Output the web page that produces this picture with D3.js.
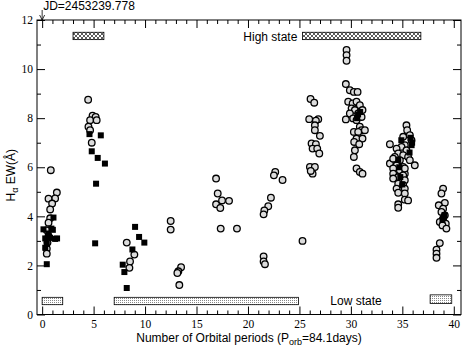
<!DOCTYPE html>
<html>
<head>
<meta charset="utf-8">
<script src="https://cdn.jsdelivr.net/npm/d3@7"></script>
<style>
  body { margin: 0; background: #fff; }
  svg { display: block; }
</style>
</head>
<body>
<div id="chart"></div>
<script>
// open circles: [orbital period number, H-alpha EW]
const openPts = [
  [0.84,5.88],[1.43,4.97],[1.26,4.73],[0.62,4.72],[0.97,4.52],[0.78,4.28],[0.78,3.92],
  [0.62,3.74],[0.45,3.43],[0.62,3.2],[0.52,2.93],[0.45,2.68],[0.45,2.48],
  [4.47,8.75],[4.9,8.1],[5.2,8.05],[4.66,7.92],[5.3,7.92],[4.5,7.65],[4.66,7.51],[4.82,7.0],
  [8.22,2.93],[8.96,2.44],[8.54,2.16],[8.48,1.9],
  [12.49,3.81],[12.49,3.46],[13.5,1.93],[13.24,1.76],[13.14,1.69],[13.33,1.2],
  [16.9,5.54],[17.06,4.93],[16.9,4.49],[17.48,4.65],[17.31,4.34],[18.16,4.63],[17.35,3.5],[18.93,3.5],
  [22.65,5.81],[22.52,5.67],[23.36,5.48],[22.23,4.76],[21.97,4.41],[21.59,4.24],[21.52,4.08],
  [21.52,2.37],[21.52,2.16],[21.65,2.05],
  [25.3,3.0],
  [26.08,8.78],[26.44,8.63],[25.95,7.96],[26.83,7.96],[26.6,7.9],[26.5,7.71],[26.5,7.51],[26.99,7.28],
  [26.18,6.97],[26.6,6.94],[26.28,6.76],[26.73,6.76],[26.93,6.56],[26.02,6.01],[26.5,6.01],[26.28,5.74],[26.1,5.85],
  [29.58,10.78],[29.58,10.57],[29.58,10.34],[29.51,9.39],[29.9,9.14],[30.29,9.07],[30.65,9.07],
  [29.74,8.67],[30.17,8.6],[30.55,8.67],[30.87,8.53],[30.07,8.4],[30.39,8.33],[31.13,8.33],
  [29.9,8.19],[30.71,8.19],[31.04,8.05],[30.22,7.99],[29.51,7.95],[30.55,7.92],[30.87,7.65],
  [31.04,7.51],[31.36,7.51],[30.29,7.44],[30.71,7.44],[30.55,7.17],[31.13,7.17],[30.32,7.03],
  [30.81,6.94],[30.39,6.69],[30.29,6.42],[30.55,5.95],[30.87,5.81],[31.13,5.74],
  [35.4,7.71],[35.47,7.51],[35.73,7.31],[35.08,7.24],[35.89,7.1],[33.79,6.94],[35.24,6.9],
  [34.92,6.83],[34.44,6.76],[35.4,6.69],[34.6,6.56],[35.08,6.49],[35.56,6.42],[34.27,6.42],
  [35.73,6.29],[34.76,6.29],[34.11,6.22],[33.79,6.15],[34.44,6.08],[36.21,6.08],[35.08,6.01],
  [34.11,5.95],[34.76,5.88],[34.11,5.74],[35.24,5.74],[34.6,5.6],[34.11,6.35],[35.24,5.95],
  [35.08,5.67],[34.11,5.54],[35.24,5.47],[34.6,5.33],[35.08,5.27],[34.44,5.13],[35.24,5.13],
  [34.6,4.96],[35.24,4.93],[35.24,4.68],[35.56,4.65],[34.6,4.49],[34.6,4.35],
  [38.96,5.13],[38.8,4.93],[39.13,4.55],[38.54,4.45],[38.96,4.31],[38.8,4.18],[39.13,4.04],
  [38.96,3.9],[38.64,3.77],[39.22,3.7],[38.9,3.63],[39.28,3.5],[38.64,2.91],[38.32,2.64],
  [38.32,2.48],[38.32,2.31]
];

// filled squares
const filledPts = [
  [0.45,2.05],[1.1,3.95],[0.13,3.47],[1.04,3.45],[0.3,3.1],[1.26,3.08],[0.78,3.12],[1.45,3.1],
  [0.45,2.88],[0.3,2.72],[0.6,3.3],[0.9,3.5],
  [4.6,7.35],[5.7,7.3],[4.82,6.65],[5.4,6.38],[6.1,6.15],[5.24,5.33],[5.15,2.9],
  [9.03,3.57],[9.42,3.16],[9.93,2.93],[8.77,2.65],[7.83,2.03],[7.99,1.73],[8.22,1.08],
  [30.7,8.15],[30.9,8.25],[30.6,8.0],
  [35.8,7.2],[35.9,6.9],[35.7,6.6],[35.95,7.0],[34.9,7.1],[34.7,6.0],[34.8,5.6],[34.6,6.3],[35.0,5.3],
  [39.0,3.95],[39.1,4.05],[38.9,3.85]
];

// state bars: [x0, x1, y0, y1]
const highBars = [[3.0, 6.0, 11.2, 11.5], [25.3, 36.8, 11.2, 11.5]];
const lowBars = [[0.0, 2.0, 0.4, 0.7], [7.0, 24.9, 0.4, 0.7], [37.7, 39.8, 0.45, 0.8]];

const xMajor = [0, 5, 10, 15, 20, 25, 30, 35, 40];
const yMajor = [0, 2, 4, 6, 8, 10, 12];

const width = 463, height = 349;
const margin = {left: 37, right: 2, top: 20, bottom: 34.5};

const svg = d3.select('#chart').append('svg')
    .attr('width', width)
    .attr('height', height);

const x = d3.scaleLinear().domain([-0.5, 40.7]).range([margin.left, width - margin.right]);
const y = d3.scaleLinear().domain([0, 12]).range([height - margin.bottom, margin.top]);

// patterns for the state bars
const defs = svg.append('defs');
const hatch = defs.append('pattern')
    .attr('id', 'hatch')
    .attr('patternUnits', 'userSpaceOnUse')
    .attr('width', 4).attr('height', 4);
hatch.append('rect').attr('width', 4).attr('height', 4).attr('fill', '#fff');
hatch.append('path')
    .attr('d', 'M0,0 L4,4 M4,0 L0,4')
    .attr('stroke', '#333').attr('stroke-width', 0.8);

const dots = defs.append('pattern')
    .attr('id', 'dots')
    .attr('patternUnits', 'userSpaceOnUse')
    .attr('width', 2).attr('height', 2);
dots.append('rect').attr('width', 2).attr('height', 2).attr('fill', '#fff');
dots.append('rect').attr('width', 1).attr('height', 1).attr('fill', '#888');

const x0 = margin.left, x1 = width - margin.right;
const y0 = height - margin.bottom, y1 = margin.top;

// axes with inward ticks
const minorX = d3.range(0, 41, 1).filter(v => v % 5 !== 0);
const minorY = d3.range(1, 12, 2);

function addAxis(axis, tx, ty) {
    const g = svg.append('g')
        .attr('transform', `translate(${tx},${ty})`)
        .call(axis);
    g.select('.domain').remove();
    g.selectAll('line').attr('stroke', '#000');
    return g;
}

const bottom = addAxis(d3.axisBottom(x).tickValues(xMajor).tickSize(-8).tickPadding(5), 0, y0);
addAxis(d3.axisBottom(x).tickValues(minorX).tickSize(-4).tickFormat(''), 0, y0);
addAxis(d3.axisTop(x).tickValues(xMajor).tickSize(-8).tickFormat(''), 0, y1);
addAxis(d3.axisTop(x).tickValues(minorX).tickSize(-4).tickFormat(''), 0, y1);
const left = addAxis(d3.axisLeft(y).tickValues(yMajor).tickSize(-8).tickPadding(4), x0, 0);
addAxis(d3.axisLeft(y).tickValues(minorY).tickSize(-4).tickFormat(''), x0, 0);
addAxis(d3.axisRight(y).tickValues(yMajor).tickSize(-8).tickFormat(''), x1, 0);
addAxis(d3.axisRight(y).tickValues(minorY).tickSize(-4).tickFormat(''), x1, 0);

[bottom, left].forEach(g => g.selectAll('text')
    .style('font-family', '"Liberation Serif", serif')
    .style('font-size', '11.5px')
    .attr('fill', '#000'));

svg.append('rect')
    .attr('x', x0).attr('y', y1)
    .attr('width', x1 - x0).attr('height', y0 - y1)
    .attr('fill', 'none').attr('stroke', '#000').attr('stroke-width', 1);

// state bars
svg.append('g').selectAll('rect')
    .data(highBars)
    .enter().append('rect')
    .attr('x', d => x(d[0])).attr('y', d => y(d[3]))
    .attr('width', d => x(d[1]) - x(d[0]))
    .attr('height', d => y(d[2]) - y(d[3]))
    .attr('fill', 'url(#hatch)').attr('stroke', '#000').attr('stroke-width', 0.8);

svg.append('g').selectAll('rect')
    .data(lowBars)
    .enter().append('rect')
    .attr('x', d => x(d[0])).attr('y', d => y(d[3]))
    .attr('width', d => x(d[1]) - x(d[0]))
    .attr('height', d => y(d[2]) - y(d[3]))
    .attr('fill', 'url(#dots)').attr('stroke', '#000').attr('stroke-width', 0.8);

// data points
svg.append('g').selectAll('circle')
    .data(openPts)
    .enter().append('circle')
    .attr('cx', d => x(d[0])).attr('cy', d => y(d[1]))
    .attr('r', 3.3)
    .attr('fill', '#dcdcdc')
    .attr('stroke', '#000')
    .attr('stroke-width', 1.3);

svg.append('g').selectAll('rect')
    .data(filledPts)
    .enter().append('rect')
    .attr('x', d => x(d[0]) - 3).attr('y', d => y(d[1]) - 3)
    .attr('width', 6).attr('height', 6)
    .attr('fill', '#000');

// labels
const sans = '"Liberation Sans", Arial, sans-serif';

svg.append('text')
    .attr('x', x(24.8)).attr('y', 41)
    .attr('text-anchor', 'end')
    .style('font-family', sans).style('font-size', '12px')
    .text('High state');

svg.append('text')
    .attr('x', x(30.5)).attr('y', 305)
    .attr('text-anchor', 'middle')
    .style('font-family', sans).style('font-size', '12px')
    .text('Low state');

// JD marker
svg.append('text')
    .attr('x', x(0) + 1).attr('y', 10)
    .style('font-family', sans).style('font-size', '12px')
    .text('JD=2453239.778');
svg.append('line')
    .attr('x1', x(0)).attr('x2', x(0))
    .attr('y1', 10).attr('y2', y1)
    .attr('stroke', '#000').attr('stroke-width', 0.8);
svg.append('path')
    .attr('d', `M${x(0) - 2.5},${y1 - 5} L${x(0)},${y1} L${x(0) + 2.5},${y1 - 5}`)
    .attr('fill', 'none').attr('stroke', '#000').attr('stroke-width', 0.8);

// axis titles
const xt = svg.append('text')
    .attr('x', (x0 + x1) / 2).attr('y', 342)
    .attr('text-anchor', 'middle')
    .style('font-family', sans).style('font-size', '12px');
xt.append('tspan').text('Number of Orbital periods (P');
xt.append('tspan').attr('dy', 3).style('font-size', '9px').text('orb');
xt.append('tspan').attr('dy', -3).text('=84.1days)');

const yt = svg.append('text')
    .attr('transform', `translate(15,${(y0 + y1) / 2 + 8}) rotate(-90)`)
    .attr('text-anchor', 'middle')
    .style('font-family', sans).style('font-size', '12px');
yt.append('tspan').text('H');
yt.append('tspan').attr('dy', 3).style('font-size', '9px').text('α');
yt.append('tspan').attr('dy', -3).text(' EW(Å)');
</script>
</body>
</html>
